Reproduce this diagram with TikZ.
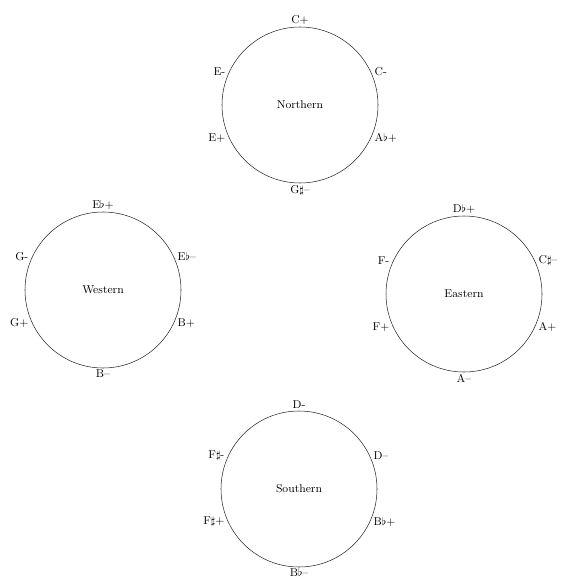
\documentclass[tikz,border=0pt]{standalone}
\usepackage{fontspec}
\begin{document}
\begin{tikzpicture}[x=0.75pt,y=-0.75pt,
  region/.style={circle, draw=black!85, line width=0.4pt, minimum size=117pt, inner sep=0pt,
    font=\fontsize{8.5}{10}\selectfont},
  note/.style={inner sep=1.2pt, font=\fontsize{8.5}{10}\selectfont},
  side/.style={note, inner sep=2.6pt}]
\useasboundingbox (0,0) rectangle (565,581);

% the four regions
\node[region] (N) at (300,105) {Northern};
\node[region] (W) at (103,290) {Western};
\node[region] (E) at (464,294) {Eastern};
\node[region] (S) at (299,489) {Southern};

% Northern
\node[note, anchor=south] (n1) at (N.90) {C+};
\node[side, anchor=west]  (n2) at (N.25) {C-};
\node[side, anchor=west]  (n3) at (N.-25) {A$\flat$+};
\node[note, anchor=north] (n4) at (N.270) {G$\sharp$--};
\node[side, anchor=east]  (n5) at (N.205) {E+};
\node[side, anchor=east]  (n6) at (N.155) {E-};

% Western
\node[note, anchor=south] (w1) at (W.90) {E$\flat$+};
\node[side, anchor=west]  (w2) at (W.25) {E$\flat$--};
\node[side, anchor=west]  (w3) at (W.-25) {B+};
\node[note, anchor=north] (w4) at (W.270) {B--};
\node[side, anchor=east]  (w5) at (W.205) {G+};
\node[side, anchor=east]  (w6) at (W.155) {G-};

% Eastern
\node[note, anchor=south] (e1) at (E.90) {D$\flat$+};
\node[side, anchor=west]  (e2) at (E.25) {C$\sharp$--};
\node[side, anchor=west]  (e3) at (E.-25) {A+};
\node[note, anchor=north] (e4) at (E.270) {A--};
\node[side, anchor=east]  (e5) at (E.205) {F+};
\node[side, anchor=east]  (e6) at (E.155) {F-};

% Southern
\node[note, anchor=south] (s1) at (S.90) {D-};
\node[side, anchor=west]  (s2) at (S.25) {D--};
\node[side, anchor=west]  (s3) at (S.-25) {B$\flat$+};
\node[note, anchor=north, inner sep=0.5pt] (s4) at (S.270) {B$\flat$--};
\node[side, anchor=east]  (s5) at (S.205) {F$\sharp$+};
\node[side, anchor=east]  (s6) at (S.155) {F$\sharp$-};
\end{tikzpicture}
\end{document}
